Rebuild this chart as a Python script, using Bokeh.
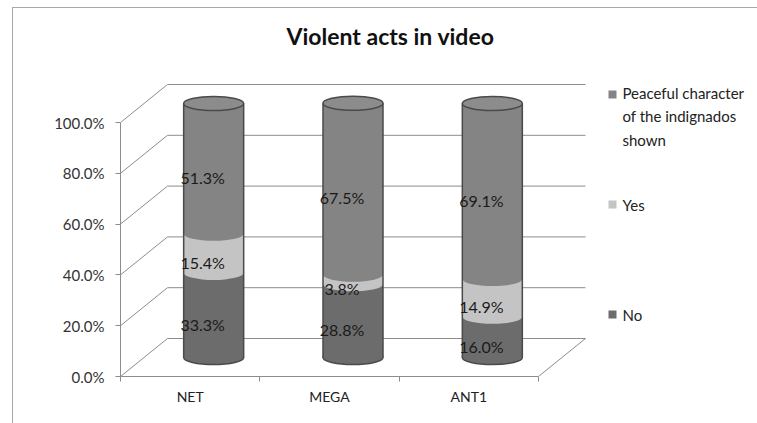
from bokeh.plotting import figure
from bokeh.models import Range1d, FixedTicker, LinearAxis, Label
from bokeh.embed import file_html
from bokeh.resources import INLINE
from bokeh.core.properties import value

# ---------------- data ----------------
title = "Violent acts in video"
categories = ["NET", "MEGA", "ANT1"]
series_names = ["No", "Yes", "Peaceful character\nof the indignados\nshown"]
no_vals = [33.3, 28.8, 16.0]
yes_vals = [15.4, 3.8, 14.9]
peaceful_vals = [51.3, 67.5, 69.1]
y_ticks = [0, 20, 40, 60, 80, 100]
y_tick_labels = ["0.0%", "20.0%", "40.0%", "60.0%", "80.0%", "100.0%"]

# ---------------- style / layout ----------------
W, H = 757, 423
L, B = 120, 376          # frame left / bottom in pixels
XS, YS = 139.33, 2.54    # px per x-unit / per percent
DX, DY = 47 / XS, 38 / YS  # 3D depth offset in data units
FONT = "Lato"
GRID = "#8c8c8c"
colors = ["#6c6c6c", "#c4c4c4", "#848484"]
edge = "#4a4a4a"


def X(px):
    return (px - L) / XS


def Y(py):
    return (B - py) / YS


p = figure(width=W, height=H, x_range=Range1d(0, (W - L) / XS), y_range=Range1d(0, B / YS),
           output_backend="svg", toolbar_location=None, x_axis_type=None, y_axis_type=None,
           min_border_left=L, min_border_right=0, min_border_top=0, min_border_bottom=H - B)
p.outline_line_color = None
p.background_fill_color = None
p.border_fill_color = None
# light chart-area border on the left and top (as in the reference)
p.styles = {"box-shadow": "inset 12px 7px 0 0 white, inset 13px 8px 0 0 #a8a8a8",
            "background-color": "white"}

# axes
yaxis = LinearAxis(ticker=FixedTicker(ticks=y_ticks),
                   major_label_overrides={t: l for t, l in zip(y_ticks, y_tick_labels)},
                   bounds=(0, 100))
yaxis.axis_line_color = GRID
yaxis.major_tick_line_color = GRID
yaxis.major_tick_out = 5
yaxis.major_tick_in = 0
yaxis.minor_tick_line_color = None
yaxis.major_label_text_font = FONT
yaxis.major_label_text_font_size = "15px"
yaxis.major_label_text_color = "#333333"
yaxis.major_label_standoff = 11
p.add_layout(yaxis, "left")

n = len(categories)
xaxis = LinearAxis(ticker=FixedTicker(ticks=[i + 0.5 for i in range(n)],
                                      minor_ticks=[i for i in range(n + 1)]),
                   major_label_overrides={i + 0.5: c for i, c in enumerate(categories)},
                   bounds=(0, n))
xaxis.axis_line_color = GRID
xaxis.major_tick_out = 0
xaxis.major_tick_in = 0
xaxis.minor_tick_out = 5
xaxis.minor_tick_in = 0
xaxis.minor_tick_line_color = GRID
xaxis.major_label_text_font = FONT
xaxis.major_label_text_font_size = "14px"
xaxis.major_label_text_color = "#222222"
xaxis.major_label_standoff = 6
p.add_layout(xaxis, "below")

# 3D walls
p.segment(x0=[DX] * len(y_ticks), y0=[t + DY for t in y_ticks],
          x1=[n + DX] * len(y_ticks), y1=[t + DY for t in y_ticks], line_color=GRID, line_width=1)
p.segment(x0=[0] * len(y_ticks), y0=y_ticks,
          x1=[DX] * len(y_ticks), y1=[t + DY for t in y_ticks], line_color=GRID, line_width=1)
p.segment(x0=[n], y0=[0], x1=[n + DX], y1=[DY], line_color=GRID, line_width=1)

# cylinders
cx = [i + 0.5 + DX / 2 for i in range(n)]
cw = 60 / XS
eh = 14 / YS
vals = [no_vals, yes_vals, peaceful_vals]
bottoms = [[0.0] * n]
for k in range(len(vals)):
    bottoms.append([b + v for b, v in zip(bottoms[-1], vals[k])])
off = DY / 2

p.ellipse(x=cx, y=[off] * n, width=cw, height=eh, fill_color=colors[0], line_color=edge, line_width=1.5)
for k in range(len(vals)):
    y0 = [b + off for b in bottoms[k]]
    y1 = [b + off for b in bottoms[k + 1]]
    if k > 0:
        p.ellipse(x=cx, y=y0, width=cw, height=eh, fill_color=colors[k], line_color=None)
    p.quad(left=[c - cw / 2 for c in cx], right=[c + cw / 2 for c in cx], bottom=y0, top=y1,
           fill_color=colors[k], line_color=None)
top_y = [b + off for b in bottoms[-1]]
p.segment(x0=[c - cw / 2 for c in cx], y0=[off] * n, x1=[c - cw / 2 for c in cx], y1=top_y,
          line_color=edge, line_width=1.5)
p.segment(x0=[c + cw / 2 for c in cx], y0=[off] * n, x1=[c + cw / 2 for c in cx], y1=top_y,
          line_color=edge, line_width=1.5)
p.ellipse(x=cx, y=top_y, width=cw, height=eh, fill_color="#8c8c8c", line_color=edge, line_width=1.5)

# data labels
for k in range(len(vals)):
    p.text(x=[i + 0.5 + 0.09 for i in range(n)],
           y=[b + v / 2 + 4 for b, v in zip(bottoms[k], vals[k])],
           text=[f"{v:.1f}%" for v in vals[k]],
           text_align="center", text_baseline="middle", text_font=value(FONT),
           text_font_size="16px", text_color="#1a1a1a")

# legend (manual, Excel-like positions)
leg_y = [314, 204, 94]
leg_text_y = [314, 204, 116]
for k in range(len(vals)):
    p.scatter(x=[X(612)], y=[Y(leg_y[k])], marker="square", size=8, fill_color=colors[k],
              line_color=None)
    p.text(x=[X(622)], y=[Y(leg_text_y[k])], text=[series_names[k]], text_align="left",
           text_baseline="middle", text_font=value(FONT), text_font_size="15px",
           text_color="#222222", text_line_height=1.3)

# title
p.add_layout(Label(x=X(390), y=Y(35), text=title, text_align="center", text_baseline="middle",
                   text_font=FONT, text_font_size="23px", text_font_style="bold",
                   text_color="#111111"))

open("out.html", "w").write(file_html(p, INLINE))
